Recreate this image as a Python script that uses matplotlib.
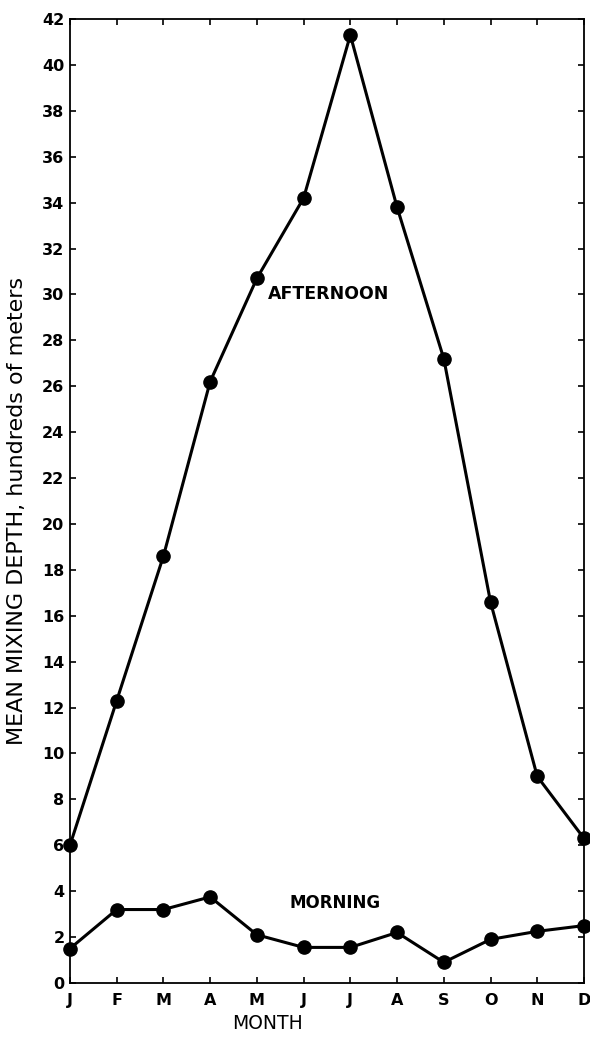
import matplotlib
matplotlib.use('Agg')
import matplotlib.pyplot as plt
import numpy as np

# monthly data (hundreds of meters)
months = ['J', 'F', 'M', 'A', 'M', 'J', 'J', 'A', 'S', 'O', 'N', 'D']
afternoon = [6.0, 12.3, 18.6, 26.2, 30.7, 34.2, 41.3, 33.8, 27.2, 16.6, 9.0, 6.3]
morning = [1.5, 3.2, 3.2, 3.75, 2.1, 1.55, 1.55, 2.2, 0.9, 1.9, 2.25, 2.5]
y_ticks = list(range(0, 43, 2))

plt.rcParams['font.family'] = ['DejaVu Sans']

fig = plt.figure(figsize=(5.9, 10.38), dpi=100)
ax = fig.add_axes([0.1186, 0.053, 0.8712, 0.9287])

x = np.arange(len(months))
ax.plot(x, afternoon, color='black', lw=2.2, marker='o', ms=9.5, clip_on=False, zorder=3)
ax.plot(x, morning, color='black', lw=2.2, marker='o', ms=9.5, clip_on=False, zorder=3)

ax.set_xlim(0, 11)
ax.set_ylim(0, 42)
ax.set_xticks(x)
ax.set_xticklabels(months)
ax.set_yticks(y_ticks)

ax.tick_params(direction='in', length=4, width=1.2, top=True, right=True,
               labelsize=11.5)
ax.tick_params(axis='y', pad=4)
ax.tick_params(axis='x', pad=7)
for lab in ax.get_xticklabels() + ax.get_yticklabels():
    lab.set_fontweight('bold')
for sp in ax.spines.values():
    sp.set_linewidth(1.3)

ax.text(5.53, 30.0, 'AFTERNOON', fontsize=12.5, fontweight='bold', ha='center', va='center')
ax.text(5.67, 3.5, 'MORNING', fontsize=12, fontweight='bold', ha='center', va='center')

ax.set_xlabel('MONTH', fontsize=13.5)
ax.xaxis.set_label_coords(0.385, -0.032)
ax.set_ylabel('MEAN MIXING DEPTH, hundreds of meters', fontsize=16)
ax.yaxis.set_label_coords(-0.083, 0.49)

fig.savefig('out.png', dpi=100)
